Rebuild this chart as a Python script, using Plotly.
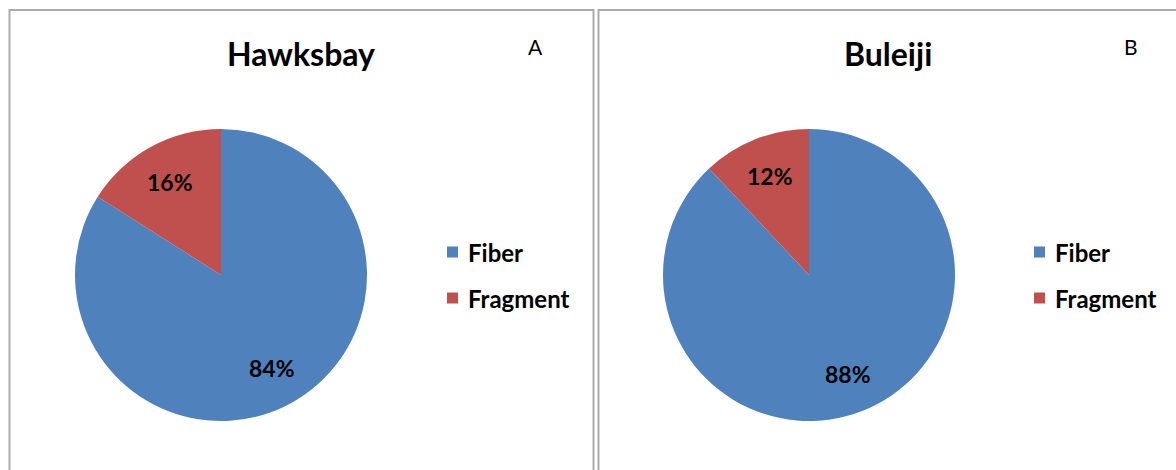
import math
import plotly.graph_objects as go

# Particle shape composition at two sampling sites
categories = ["Fiber", "Fragment"]
site_names = ["Hawksbay", "Buleiji"]
panel_tags = ["A", "B"]
hawksbay_values = [84, 16]
buleiji_values = [88, 12]
slice_colors = ["#4F81BD", "#C0504D"]

W, H = 1176, 470
FONT = "Lato"


def px(x):
    return x / W


def py(y):
    return 1 - y / H


fig = go.Figure()
shapes = []
annotations = []

# panel geometry (pixel space): pie centre x, panel left/right, legend x
panels = [
    dict(cx=221, left=9.5, right=593.5, title_x=301, tag_x=535, legend_x=447),
    dict(cx=809, left=598.5, right=1190, title_x=888, tag_x=1131, legend_x=1034),
]
CY, R = 275, 146

for values, name, tag, p in zip([hawksbay_values, buleiji_values], site_names, panel_tags, panels):
    fig.add_trace(go.Pie(
        labels=categories,
        values=values,
        sort=False,
        direction="clockwise",
        rotation=0,
        marker=dict(colors=slice_colors, line=dict(width=0)),
        textinfo="none",
        hoverinfo="label+percent",
        showlegend=False,
        domain=dict(x=[px(p["cx"] - R), px(p["cx"] + R)], y=[py(CY + R), py(CY - R)]),
    ))

    # percentage labels on each slice bisector
    total = sum(values)
    start = 0.0
    for v in values:
        mid = (start + v / 2) / total * 2 * math.pi
        start += v
        lx = p["cx"] + 0.73 * R * math.sin(mid)
        ly = CY - 0.73 * R * math.cos(mid)
        annotations.append(dict(
            x=px(lx), y=py(ly), xref="paper", yref="paper",
            text="<b>%d%%</b>" % round(100 * v / total), showarrow=False,
            font=dict(family=FONT, size=23, color="black"),
            xanchor="center", yanchor="middle",
        ))

    # panel frame
    shapes.append(dict(type="rect", xref="paper", yref="paper",
                       x0=px(p["left"]), x1=px(p["right"]), y0=py(H + 20), y1=py(10),
                       line=dict(color="#ABABAB", width=2)))

    # title and panel tag
    annotations.append(dict(x=px(p["title_x"]), y=py(53), xref="paper", yref="paper",
                            text="<b>%s</b>" % name, showarrow=False,
                            font=dict(family=FONT, size=32, color="black"),
                            xanchor="center", yanchor="middle"))
    annotations.append(dict(x=px(p["tag_x"]), y=py(47), xref="paper", yref="paper",
                            text=tag, showarrow=False,
                            font=dict(family=FONT, size=21, color="black"),
                            xanchor="center", yanchor="middle"))

    # legend
    for i, (cat, col) in enumerate(zip(categories, slice_colors)):
        yc = 252 + 46 * i
        shapes.append(dict(type="rect", xref="paper", yref="paper",
                           x0=px(p["legend_x"]), x1=px(p["legend_x"] + 11),
                           y0=py(yc + 5.5), y1=py(yc - 5.5),
                           fillcolor=col, line=dict(width=0)))
        annotations.append(dict(x=px(p["legend_x"] + 19), y=py(yc), xref="paper", yref="paper",
                                text="<b>%s</b>" % cat, showarrow=False,
                                font=dict(family=FONT, size=24, color="black"),
                                xanchor="left", yanchor="middle"))

fig.update_layout(
    width=W, height=H,
    margin=dict(l=0, r=0, t=0, b=0),
    paper_bgcolor="white",
    plot_bgcolor="white",
    shapes=shapes,
    annotations=annotations,
)

fig.write_html("out.html")
